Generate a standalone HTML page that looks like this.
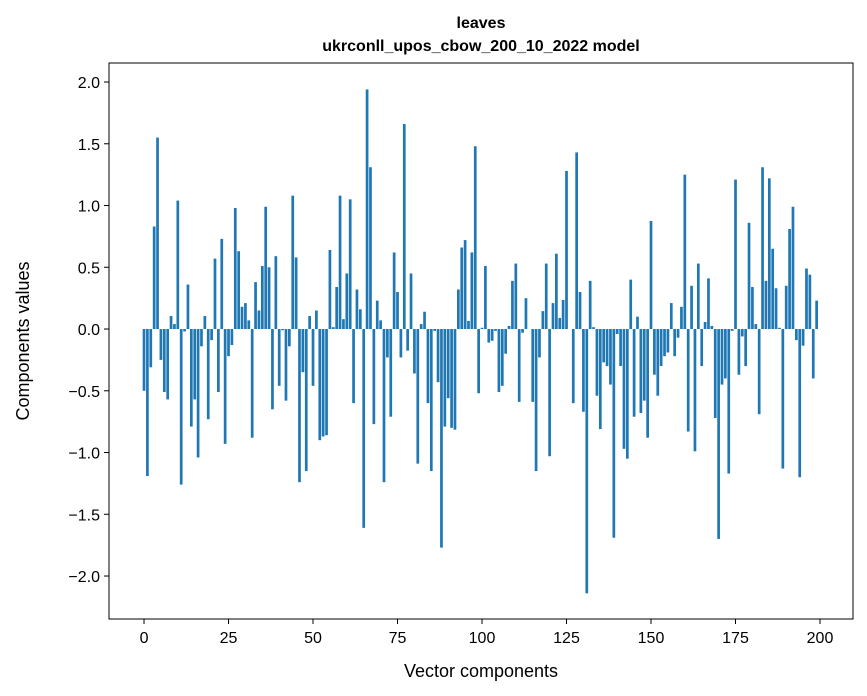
<!DOCTYPE html>
<html><head><meta charset="utf-8"><style>
html,body{margin:0;padding:0;background:#fff;}
svg{display:block;font-family:"Liberation Sans",sans-serif;}
</style></head><body>
<svg id="chart" width="867" height="696" viewBox="0 0 867 696" xmlns="http://www.w3.org/2000/svg">
<rect x="0" y="0" width="867" height="696" fill="#fff"/>
<text x="481" y="28" text-anchor="middle" font-size="16" font-weight="bold">leaves</text>
<text x="481" y="51" text-anchor="middle" font-size="16" font-weight="bold">ukrconll_upos_cbow_200_10_2022 model</text>
<g id="bars"></g>
<g id="axes"></g>
<rect x="109" y="63" width="744" height="556" fill="none" stroke="#000" stroke-width="1"/>
<text x="481" y="677" text-anchor="middle" font-size="18">Vector components</text>
<text x="29" y="341" text-anchor="middle" font-size="18" transform="rotate(-90 29 341)">Components values</text>
</svg>
<script>
const values = [
-0.50,-1.19,-0.31,0.83,1.55,-0.25,-0.51,-0.57,0.105,0.04,
1.04,-1.26,-0.02,0.36,-0.79,-0.57,-1.04,-0.14,0.105,-0.73,
-0.09,0.57,-0.51,0.73,-0.93,-0.22,-0.13,0.98,0.63,0.18,
0.21,0.07,-0.88,0.38,0.15,0.51,0.99,0.50,-0.65,0.59,
-0.46,-0.01,-0.58,-0.14,1.08,0.58,-1.24,-0.35,-1.15,0.105,
-0.46,0.15,-0.90,-0.87,-0.86,0.64,0.015,0.34,1.08,0.08,
0.45,1.05,-0.60,0.32,0.16,-1.61,1.94,1.31,-0.77,0.23,
0.07,-1.24,-0.23,-0.71,0.62,0.30,-0.23,1.66,-0.175,0.45,
-0.36,-1.09,0.04,0.14,-0.60,-1.15,-0.015,-0.43,-1.77,-0.79,
-0.56,-0.80,-0.815,0.32,0.66,0.72,0.065,0.62,1.48,-0.52,
0.01,0.51,-0.11,-0.095,-0.015,-0.51,-0.46,-0.20,0.025,0.39,
0.53,-0.59,-0.03,0.25,0.0,-0.59,-1.15,-0.23,0.145,0.53,
-1.03,0.21,0.61,0.09,0.235,1.28,0.0,-0.60,1.43,0.30,
-0.67,-2.14,0.39,0.015,-0.54,-0.81,-0.27,-0.30,-0.45,-1.69,
-0.04,-0.30,-0.97,-1.05,0.40,-0.71,0.10,-0.68,-0.58,-0.88,
0.875,-0.37,-0.54,-0.30,-0.22,-0.19,0.21,-0.22,-0.07,0.18,
1.25,-0.83,0.35,-0.99,0.53,-0.30,0.057,0.41,0.025,-0.72,
-1.70,-0.45,-0.40,-1.17,-0.015,1.21,-0.37,-0.06,-0.30,0.86,
0.34,0.04,-0.69,1.31,0.39,1.22,0.65,0.33,0.01,-1.13,
0.35,0.81,0.99,-0.09,-1.20,-0.135,0.49,0.44,-0.40,0.23
];
const xTicks = [0,25,50,75,100,125,150,175,200];
const yTicks = [-2.0,-1.5,-1.0,-0.5,0.0,0.5,1.0,1.5,2.0];
const yTickLabels = ["\u22122.0","\u22121.5","\u22121.0","\u22120.5","0.0","0.5","1.0","1.5","2.0"];

const X0=109, X1=853, Y0=63, Y1=619;
const xMin=-10.36, xMax=209.76, yMin=-2.348, yMax=2.154;
function xs(v){return X0+(v-xMin)/(xMax-xMin)*(X1-X0);}
function ys(v){return Y1-(v-yMin)/(yMax-yMin)*(Y1-Y0);}
const NS="http://www.w3.org/2000/svg";
const bars=document.getElementById('bars');
const bw=0.8;
values.forEach(function(v,i){
  const r=document.createElementNS(NS,'rect');
  const xa=xs(i-bw/2), xb=xs(i+bw/2);
  const ya=ys(Math.max(v,0)), yb=ys(Math.min(v,0));
  r.setAttribute('x',xa);
  r.setAttribute('width',xb-xa);
  r.setAttribute('y',ya);
  r.setAttribute('height',Math.max(yb-ya,0.01));
  r.setAttribute('fill','#1f77b4');
  
  
  bars.appendChild(r);
});
const axes=document.getElementById('axes');
xTicks.forEach(function(t){
  const x=xs(t);
  const l=document.createElementNS(NS,'line');
  l.setAttribute('x1',x);l.setAttribute('x2',x);l.setAttribute('y1',Y1);l.setAttribute('y2',Y1+5);
  l.setAttribute('stroke','#000');
  
  
  axes.appendChild(l);
  const tx=document.createElementNS(NS,'text');
  tx.setAttribute('x',x);tx.setAttribute('y',Y1+24);tx.setAttribute('text-anchor','middle');tx.setAttribute('font-size','16');
  tx.textContent=String(t);
  
  
  axes.appendChild(tx);
});
yTicks.forEach(function(t,k){
  const y=ys(t);
  const l=document.createElementNS(NS,'line');
  l.setAttribute('x1',X0-5);l.setAttribute('x2',X0);l.setAttribute('y1',y);l.setAttribute('y2',y);
  l.setAttribute('stroke','#000');
  
  
  axes.appendChild(l);
  const tx=document.createElementNS(NS,'text');
  tx.setAttribute('x',X0-9);tx.setAttribute('y',y+6);tx.setAttribute('text-anchor','end');tx.setAttribute('font-size','16');
  tx.textContent=yTickLabels[k];
  
  
  axes.appendChild(tx);
});
</script>
</body></html>
